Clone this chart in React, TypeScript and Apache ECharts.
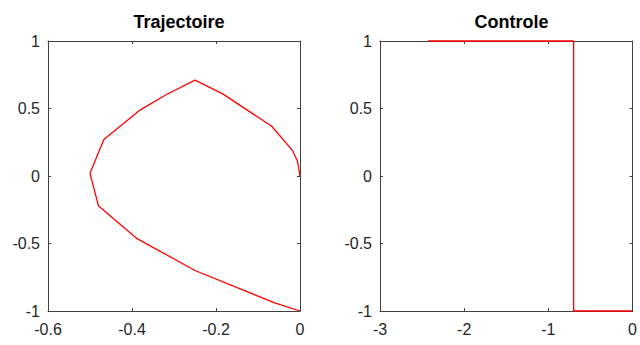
import React, { useEffect, useRef } from "react";
import * as echarts from "echarts";

const trajX = [0, -0.06, -0.25, -0.39, -0.48, -0.5, -0.467, -0.38, -0.32, -0.25, -0.185, -0.068, -0.018, -0.006, 0];
const trajY = [-1, -0.94, -0.70, -0.46, -0.22, 0.02, 0.27, 0.49, 0.60, 0.71, 0.61, 0.37, 0.19, 0.11, 0];

const ctrlX = [-2.43, -0.70, -0.70, 0];
const ctrlY = [1, 1, -1, -1];

const titles = ["Trajectoire", "Controle"];

const FONT = "Liberation Sans, Arial, Helvetica, sans-serif";
const AXC = "#404040";
const LBL = "#262626";

export default function App() {
  const ref = useRef<HTMLDivElement>(null);
  useEffect(() => {
    if (!ref.current) return;
    const chart = echarts.init(ref.current, null, { renderer: "svg" });
    const grids = [
      { left: 48, top: 41, width: 252, height: 270 },
      { left: 380, top: 41, width: 253, height: 270 },
    ];
    const xCfg = [
      { min: -0.6, max: 0, interval: 0.2 },
      { min: -3, max: 0, interval: 1 },
    ];
    const yCfg = { min: -1, max: 1, interval: 0.5 };
    const axisBase = (show: boolean) => ({
      axisLine: { show: true, onZero: false, lineStyle: { color: AXC, width: 1 } },
      axisTick: { show: true, inside: true, length: 3, lineStyle: { color: AXC } },
      axisLabel: { show, color: LBL, fontSize: 16, fontFamily: FONT },
      splitLine: { show: false },
    });
    const xAxis: any[] = [];
    const yAxis: any[] = [];
    grids.forEach((_, i) => {
      xAxis.push({ type: "value", gridIndex: i, position: "bottom", ...xCfg[i], ...axisBase(true), axisLabel: { ...axisBase(true).axisLabel, margin: 10 } });
      xAxis.push({ type: "value", gridIndex: i, position: "top", ...xCfg[i], ...axisBase(false) });
      yAxis.push({ type: "value", gridIndex: i, position: "left", ...yCfg, ...axisBase(true), axisLabel: { ...axisBase(true).axisLabel, margin: 8 } });
      yAxis.push({ type: "value", gridIndex: i, position: "right", ...yCfg, ...axisBase(false) });
    });
    chart.setOption({
      animation: false,
      backgroundColor: "#ffffff",
      title: titles.map((t, i) => ({
        text: t,
        left: grids[i].left + grids[i].width / 2,
        top: 8,
        textAlign: "center",
        textStyle: { fontSize: 18, fontWeight: "bold", color: "#000", fontFamily: FONT },
      })),
      grid: grids,
      xAxis,
      yAxis,
      series: [
        {
          type: "line",
          xAxisIndex: 0,
          yAxisIndex: 0,
          data: trajX.map((x, k) => [x, trajY[k]]),
          showSymbol: false,
          clip: false,
          lineStyle: { color: "#ff0000", width: 1.3 },
          z: 5,
        },
        {
          type: "line",
          xAxisIndex: 2,
          yAxisIndex: 2,
          data: ctrlX.map((x, k) => [x, ctrlY[k]]),
          showSymbol: false,
          clip: false,
          lineStyle: { color: "#ff0000", width: 1.3 },
          z: 5,
        },
      ],
    });
    return () => chart.dispose();
  }, []);
  return <div ref={ref} style={{ width: 640, height: 345, position: "absolute", left: 0, top: 0 }} />;
}
